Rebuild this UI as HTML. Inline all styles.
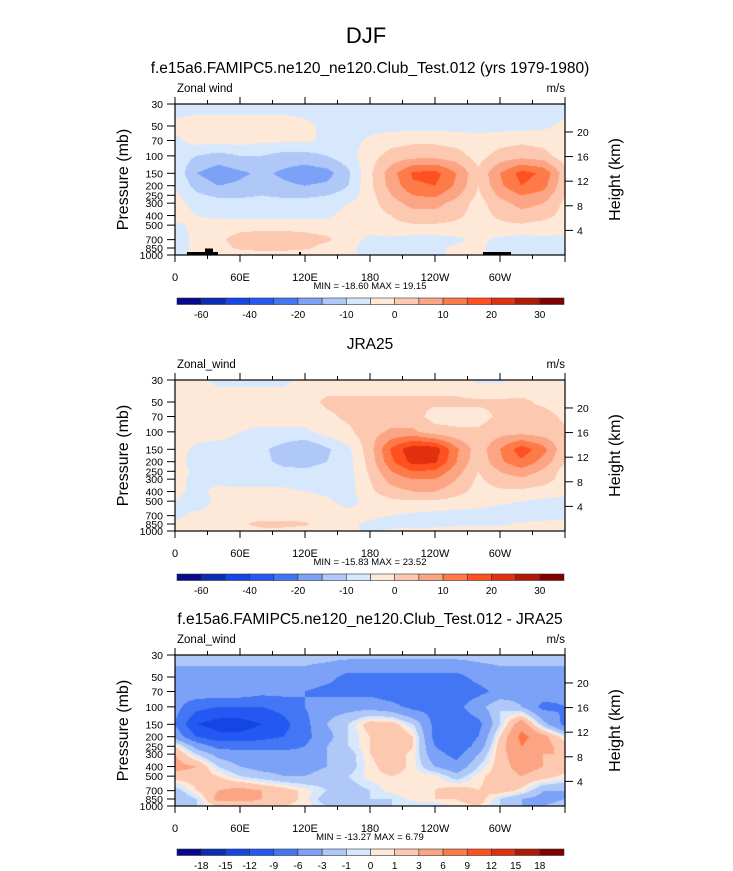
<!DOCTYPE html>
<html><head><meta charset="utf-8"><style>
body{margin:0;background:#fff;width:733px;height:871px;overflow:hidden;font-family:"Liberation Sans",sans-serif;}
svg{position:absolute;left:0;top:0}
canvas{position:absolute}
</style></head><body>
<canvas id="c0" width="390" height="151" style="left:175px;top:104px"></canvas>
<canvas id="c1" width="390" height="151" style="left:175px;top:380px"></canvas>
<canvas id="c2" width="390" height="151" style="left:175px;top:655px"></canvas>
<svg id="svg" width="733" height="871" xmlns="http://www.w3.org/2000/svg">
<text x="366" y="43" font-size="22" text-anchor="middle">DJF</text>
</svg>
<script>
const pressures=[30,50,70,100,150,200,250,300,400,500,700,850,1000];
const lons=[0,20,40,60,80,100,120,140,160,180,200,220,240,260,280,300,320,340,360];
const xTickLabels=["0","60E","120E","180","120W","60W"];
const xTickLons=[0,60,120,180,240,300];
const heightTicks=[4,8,12,16,20];
const levelsAbs=[-60,-50,-40,-30,-20,-15,-10,-5,0,5,10,15,20,25,30];
const labelsAbs=["-60","","-40","","-20","","-10","","0","","10","","20","","30"];
const levelsDiff=[-18,-15,-12,-9,-6,-3,-1,0,1,3,6,9,12,15,18];
const labelsDiff=["-18","-15","-12","-9","-6","-3","-1","0","1","3","6","9","12","15","18"];
const colors=["#08088c","#0a2db4","#1446e6","#2458f2","#4276f4","#7ba2f7","#b0c8f8","#d7e8fc","#fee9d9","#fdc8b0","#fca585","#fe7a48","#ff5020","#e03010","#b01808","#800000"];
const modelValues=[
[-7,-7,-7,-7,-7,-7,-7,-7,-7,-7,-7,-7,-7,-7,-7,-7,-7,-7,-7],
[-4,-3,-3,-3,-3,-3,-4,-6,-7,-7,-7,-7,-7,-7,-7,-7,-7,-6,-4],
[-6,-3,-3,-3,-4,-4,-4,-6,-7,-4,-2,-1,-1,-2,-3,-2,-1,-2,-4],
[-7,-10,-12,-10,-10,-12,-12,-10,-7,-2,2,3,3,2,-2,2,3,2,-3],
[-6,-15,-18,-16,-14,-16,-18,-17,-11,-1,8,16,17,10,1,10,17,14,2],
[-5,-12,-15,-14,-12,-14,-15,-14,-10,-1,7,14,15,9,0,9,15,12,1],
[-4,-9,-11,-11,-10,-11,-11,-10,-8,-2,5,10,11,6,-1,6,10,8,0],
[-3,-7,-8,-8,-8,-8,-8,-8,-5,-2,3,7,7,3,-2,3,7,5,-1],
[-2,-5,-6,-7,-7,-7,-7,-6,-3,-2,0,3,3,1,-2,1,3,2,-2],
[-6,-4,-3,-2,-2,-2,-2,-3,-3,-3,-1,-0.5,-0.5,-1,-3,-1,-0.5,-2,-3],
[-7,-4,-1,2,3,3,2,1,-3,-6,-6,-7,-7,-6,-4,-6,-7,-6,-6],
[-7,-4,-2,1,2,2,1,-2,-4,-7,-7,-7,-6,-4,-4,-7,-7,-6,-6],
[-7,-4,-4,-3,-3,-3,-4,-4,-4,-6,-7,-7,-6,-4,-4,-6,-7,-6,-6]];
const jraValues=[
[-4,-4,-6,-6,-6,-6,-4,-3,-3,-3,-3,-3,-3,-3,-6,-6,-4,-3,-3],
[-3,-3,-3,-3,-3,-3,-2,1,1,1,1,1,1,1,1,1,1,-1,-3],
[-3,-3,-3,-3,-3,-3,-3,-1,1,2,2,2,-2,-2,-2,1,1,2,-1],
[-3,-3,-3,-5,-6,-6,-6,-3,-1,3,6,6,2,1,1,3,3,2,1],
[-3,-6,-7,-7,-9,-12,-15,-11,-6,3,16,24,23,11,2,10,18,12,1],
[-3,-7,-7,-8,-9,-11,-12,-10,-7,2,14,22,21,10,1,9,14,8,0],
[-3,-6,-7,-8,-8,-9,-9,-8,-7,1,10,15,14,7,0,5,8,4,-2],
[-4,-6,-6,-7,-7,-7,-7,-7,-7,0,7,10,10,5,-1,3,4,2,-2],
[-4,-6,-4,-4,-4,-4,-5,-6,-7,-1,3,5,5,2,-2,-1,-1,-2,-3],
[-5,-7,-4,-3,-3,-3,-3,-4,-7,-3,-1,-0.5,-0.5,-2,-3,-4,-5,-6,-7],
[-6,-4,-4,-3,-3,-3,-3,-3,-3,-4,-5,-6,-7,-7,-7,-8,-8,-8,-7],
[-4,-4,-3,-1,2,2,1,-3,-4,-6,-7,-7,-7,-6,-6,-6,-4,-3,-3],
[-3,-2,-4,-3,-2,-2,-3,-4,-4,-6,-4,-3,-3,-3,-3,-3,-3,-4,-3]];
const diffValues=[
[-2,-2,-2,-2,-2,-2,-2,-2,-2,-2,-2,-2,-2,-2,-2,-2,-2,-2,-2],
[-4,-4,-4,-4,-4,-4,-4,-5,-7,-7,-7,-7,-7,-7,-5,-4,-4,-4,-4],
[-5,-4,-4,-4,-5,-5,-6,-7,-7,-7,-8,-8,-8,-8,-7,-5,-4,-4,-5],
[-5,-8,-9,-9,-9,-8,-6,-4,-4,-4,-5,-7,-7,-7,-4,-1,-3,-7,-6],
[-6,-12,-13.5,-13.5,-12,-10,-7,-3,-1,2,2,-1,-7,-8,-7,-1,5,-2,-7],
[-4,-9,-11,-11,-10,-9,-7,-4,-1,1,3,1,-7,-8,-6,1,7,4,0],
[1,-4,-7,-7,-7,-7,-6,-3,-1,1,3,1,-6,-8,-5,2,6,4,2],
[3,-1,-4,-5,-5,-5,-5,-3,-2,1,2,0.5,-5,-7,-3,2,5,3,3],
[4,3,-1,-3,-4,-4,-4,-3,-2,0.5,2,0.5,-3,-5,-1,2,4,3,2],
[2,2,1,-1,-2,-3,-3,-2,-1,0.5,1,0.5,0.5,-2,0.5,2,3,2,0.5],
[-2,1,3,4,3,2,0.5,-1,-2,-1,0.5,1,1,2,1,2,0.5,-3,-3],
[-3,-1,4,4,3,2,0.5,-2,-2,-1,-1,0.5,1,1,2,-1,-3,-4,-3],
[-2,-1,1,1,2,1,0.5,-1,-2,-2,-1,-1,-1,0.5,1,-1,-3,-3,-2]];

const PW=390, PH=151, X0=175, Y0s=[104,380,655];
const lp0=Math.log(30), lp1=Math.log(1000);
function xOf(lon){return X0+lon/360*PW;}
function yOf(p,top){return top+(Math.log(p)-lp0)/(lp1-lp0)*PH;}
function binOf(v,lv){let i=0;while(i<lv.length&&v>=lv[i])i++;return i;}
function hex(c){return [parseInt(c.substr(1,2),16),parseInt(c.substr(3,2),16),parseInt(c.substr(5,2),16)];}
const rgb=colors.map(hex);
const lnP=pressures.map(p=>Math.log(p));
function drawField(id,vals,lv){
  const cv=document.getElementById(id),ctx=cv.getContext('2d');
  const img=ctx.createImageData(PW,PH);
  for(let py=0;py<PH;py++){
    const lp=lp0+(py+0.5)/PH*(lp1-lp0);
    let r=0;while(r<lnP.length-2&&lp>lnP[r+1])r++;
    let fy=(lp-lnP[r])/(lnP[r+1]-lnP[r]);fy=Math.max(0,Math.min(1,fy));
    for(let px=0;px<PW;px++){
      const lon=(px+0.5)/PW*360;
      let c=Math.min(lons.length-2,Math.floor(lon/20));
      const fx=(lon-lons[c])/(lons[c+1]-lons[c]);
      const v=(vals[r][c]*(1-fx)+vals[r][c+1]*fx)*(1-fy)+(vals[r+1][c]*(1-fx)+vals[r+1][c+1]*fx)*fy;
      const col=rgb[binOf(v,lv)];const k=(py*PW+px)*4;
      img.data[k]=col[0];img.data[k+1]=col[1];img.data[k+2]=col[2];img.data[k+3]=255;
    }
  }
  ctx.putImageData(img,0,0);
}
drawField('c0',modelValues,levelsAbs);
drawField('c1',jraValues,levelsAbs);
drawField('c2',diffValues,levelsDiff);

const svg=document.getElementById('svg');const NS='http://www.w3.org/2000/svg';
function el(tag,attrs,txt){const e=document.createElementNS(NS,tag);for(const k in attrs)e.setAttribute(k,attrs[k]);if(txt!==undefined)e.textContent=txt;svg.appendChild(e);return e;}
const titles=["f.e15a6.FAMIPC5.ne120_ne120.Club_Test.012 (yrs 1979-1980)","JRA25","f.e15a6.FAMIPC5.ne120_ne120.Club_Test.012 - JRA25"];
const leftLabels=["Zonal wind","Zonal_wind","Zonal_wind"];
const minmax=["MIN = -18.60  MAX =  19.15","MIN = -15.83  MAX =  23.52","MIN = -13.27  MAX =  6.79"];
for(let i=0;i<3;i++){
  const top=Y0s[i];const bot=top+PH;
  let t=el('text',{x:370,y:top-31,'font-size':15.5,'text-anchor':'middle'},titles[i]);
  
  t=el('text',{x:177,y:top-12,'font-size':11.5},leftLabels[i]);
  
  t=el('text',{x:565,y:top-12,'font-size':11.5,'text-anchor':'end'},'m/s');
  
  let f=el('rect',{x:X0,y:top,width:PW,height:PH,fill:'none',stroke:'#000','stroke-width':1.2});
  
  for(let lon=0;lon<=360;lon+=30){
    const x=xOf(lon);const L=lon%60===0?7:4;
    el('line',{x1:x,y1:bot,x2:x,y2:bot+L,stroke:'#000','stroke-width':1});
    el('line',{x1:x,y1:top,x2:x,y2:top-L,stroke:'#000','stroke-width':1});
  }
  xTickLabels.forEach((lb,j)=>{const t=el('text',{x:xOf(xTickLons[j]),y:bot+26,'font-size':11,'text-anchor':'middle'},lb);
    });
  pressures.forEach(p=>{const y=yOf(p,top);el('line',{x1:X0-8,y1:y,x2:X0,y2:y,stroke:'#000','stroke-width':1});
    const t=el('text',{x:X0-12,y:y+4,'font-size':10.5,'text-anchor':'end'},String(p));
    });
  heightTicks.forEach(h=>{const p=1000*Math.exp(-h/7);const y=yOf(p,top);
    el('line',{x1:X0+PW,y1:y,x2:X0+PW+8,y2:y,stroke:'#000','stroke-width':1});
    const t=el('text',{x:X0+PW+12,y:y+4,'font-size':10.5},String(h));
    });
  const cy=top+PH/2;
  t=el('text',{x:128,y:cy,'font-size':16,'text-anchor':'middle',transform:'rotate(-90 128 '+cy+')'},'Pressure (mb)');
  
  t=el('text',{x:620,y:cy,'font-size':16,'text-anchor':'middle',transform:'rotate(-90 620 '+cy+')'},'Height (km)');
  
  t=el('text',{x:370,y:bot+34,'font-size':9.5,'text-anchor':'middle'},minmax[i]);
  
  if(i!==1){
    [[187,252,31,3],[205,248.5,8,4],[299,252,2,3],[483,252,28,3]].forEach(r=>{
      const b=el('rect',{x:r[0],y:r[1],width:r[2],height:r[3],fill:'#000'});
      });
  }
  const lv=i===2?levelsDiff:levelsAbs;const lbs=i===2?labelsDiff:labelsAbs;
  const cbx=177,cbw=387,cby=bot+43,bw=cbw/16;
  colors.forEach((c,j)=>{const r=el('rect',{x:cbx+j*bw,y:cby,width:bw,height:6.5,fill:c,stroke:'#333','stroke-width':0.6});
    });
  lv.forEach((v,j)=>{if(!lbs[j])return;const t=el('text',{x:cbx+(j+1)*bw,y:cby+20,'font-size':10,'text-anchor':'middle'},lbs[j]);
    });
}
</script>
</body></html>
